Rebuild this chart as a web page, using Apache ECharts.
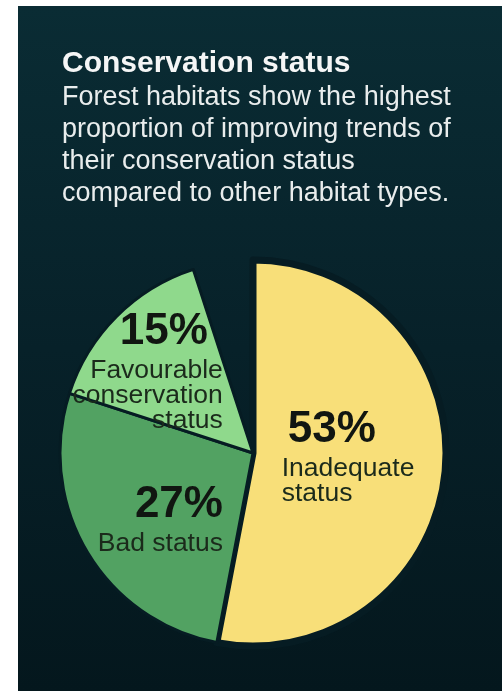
<!DOCTYPE html>
<html>
<head>
<meta charset="utf-8">
<title>Conservation status</title>
<script src="https://cdn.jsdelivr.net/npm/echarts@6/dist/echarts.min.js"></script>
<style>
  html, body { margin: 0; padding: 0; background: #ffffff; }
  #chart { width: 502px; height: 691px; }
</style>
</head>
<body>
<div id="chart"></div>
<script>
// Share of forest habitat assessments by conservation status (%)
const heading = 'Conservation status';
const introLines = [
  'Forest habitats show the highest',
  'proportion of improving trends of',
  'their conservation status',
  'compared to other habitat types.'
];
const statusNames = ['Inadequate\nstatus', 'Bad status', 'Favourable\nconservation\nstatus'];
const statusShares = [53, 27, 15];
const statusColors = ['#f8df79', '#52a262', '#8fd98c'];

// Assessments without a reported status make up the rest of the circle
const unreported = 100 - statusShares.reduce((a, b) => a + b, 0);

const FONT = '"Liberation Sans", Arial, Helvetica, sans-serif';
const PANEL_EDGE = '#061c23';

// Per-slice label placement relative to the slice's inner anchor point
const labelPlacement = [
  { side: 'l', offset: [-4, -8] },
  { side: 'r', offset: [-7, 14] },
  { side: 'r', offset: [-35, -13], pctPad: 15 }
];
const sliceBorder = [7, 3, 3];

function labelText(i) {
  const p = labelPlacement[i];
  const pctKey = p.pctPad ? 'p' + p.side + 'x' : 'p' + p.side;
  const lines = statusNames[i].split('\n').map(s => '{n' + p.side + '|' + s + '}');
  return ['{' + pctKey + '|' + statusShares[i] + '%}'].concat(lines).join('\n');
}

const pctStyle = { fontFamily: FONT, fontSize: 44, fontWeight: 'bold', lineHeight: 53, color: '#111611' };
const nameStyle = { fontFamily: FONT, fontSize: 26.5, lineHeight: 25, color: '#1b2a1b' };

const pieData = statusShares.map((v, i) => ({
  name: statusNames[i],
  value: v,
  itemStyle: { color: statusColors[i], borderColor: PANEL_EDGE, borderWidth: sliceBorder[i] },
  label: {
    show: true,
    position: 'inside',
    offset: labelPlacement[i].offset,
    formatter: () => labelText(i)
  }
}));
pieData.push({
  name: '',
  value: unreported,
  itemStyle: { color: 'rgba(0,0,0,0)', borderWidth: 0 },
  label: { show: false },
  emphasis: { disabled: true }
});

const chart = echarts.init(document.getElementById('chart'), null, { renderer: 'canvas' });
chart.setOption({
  animation: false,
  backgroundColor: '#ffffff',
  graphic: [{
    type: 'rect',
    z: -10,
    silent: true,
    shape: { x: 18, y: 6, width: 484, height: 685 },
    style: {
      fill: new echarts.graphic.LinearGradient(0, 0, 0, 1, [
        { offset: 0, color: '#0a2c34' },
        { offset: 0.5, color: '#072129' },
        { offset: 1, color: '#04171d' }
      ])
    }
  }],
  title: {
    text: heading,
    subtext: introLines.join('\n'),
    left: 62,
    top: 46,
    padding: 0,
    itemGap: 0,
    textStyle: { fontFamily: FONT, fontSize: 30, fontWeight: 'bold', lineHeight: 36, color: '#f5f6f6' },
    subtextStyle: { fontFamily: FONT, fontSize: 27, lineHeight: 32, color: '#e9eded' }
  },
  series: [{
    type: 'pie',
    center: [253, 453],
    radius: [0, 193],
    startAngle: 90,
    clockwise: true,
    avoidLabelOverlap: false,
    labelLine: { show: false },
    label: {
      rich: {
        pl: Object.assign({ align: 'left', padding: [0, 0, 0, 6] }, pctStyle),
        pr: Object.assign({ align: 'right' }, pctStyle),
        prx: Object.assign({ align: 'right', padding: [0, 15, 0, 0] }, pctStyle),
        nl: Object.assign({ align: 'left' }, nameStyle),
        nr: Object.assign({ align: 'right' }, nameStyle)
      }
    },
    emphasis: { scale: false },
    data: pieData
  }]
});
</script>
</body>
</html>
